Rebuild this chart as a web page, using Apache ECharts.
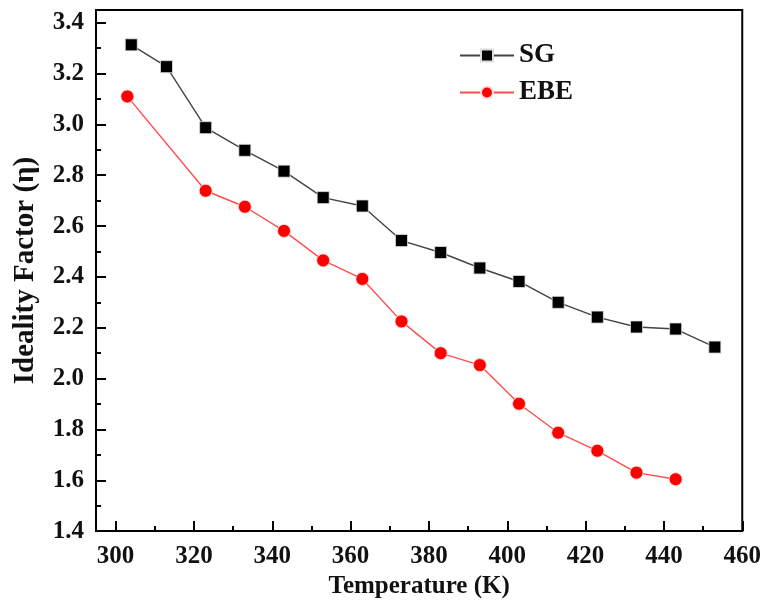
<!DOCTYPE html>
<html>
<head>
<meta charset="utf-8">
<script src="https://cdn.jsdelivr.net/npm/echarts@6/dist/echarts.min.js"></script>
<style>
  html, body { margin: 0; padding: 0; background: #fff; }
  #chart { width: 764px; height: 604px; }
</style>
</head>
<body>
<div id="chart"></div>
<script>
// data
const sgTemp = [304, 313, 323, 333, 343, 353, 363, 373, 383, 393, 403, 413, 423, 433, 443, 453];
const sgEta  = [3.313, 3.227, 2.987, 2.898, 2.816, 2.712, 2.679, 2.543, 2.496, 2.435, 2.382, 2.300, 2.242, 2.203, 2.195, 2.124];
const ebeTemp = [303, 323, 333, 343, 353, 363, 373, 383, 393, 403, 413, 423, 433, 443];
const ebeEta  = [3.110, 2.739, 2.676, 2.581, 2.465, 2.392, 2.225, 2.100, 2.053, 1.901, 1.787, 1.716, 1.630, 1.604];

// tick positions
const xMajor = [300, 320, 340, 360, 380, 400, 420, 440, 460];
const xMinor = [310, 330, 350, 370, 390, 410, 430, 450];
const yMajor = [1.4, 1.6, 1.8, 2.0, 2.2, 2.4, 2.6, 2.8, 3.0, 3.2, 3.4];
const yMinor = [1.5, 1.7, 1.9, 2.1, 2.3, 2.5, 2.7, 2.9, 3.1, 3.3];

const FONT = '"Liberation Serif", "DejaVu Serif", serif';

const zip = (xs, ys) => xs.map((x, i) => [x, ys[i]]);

const chart = echarts.init(document.getElementById('chart'));

const labelStyle = { fontFamily: FONT, fontWeight: 'bold', fontSize: 25, color: '#111' };
const tickLine = { color: '#000', width: 2 };

chart.setOption({
  animation: false,
  backgroundColor: '#fff',
  grid: {
    left: 96, top: 10, right: 20, bottom: 72,
    show: true, borderColor: '#000', borderWidth: 2
  },
  legend: {
    left: 454, top: 37, orient: 'vertical',
    itemWidth: 54, itemHeight: 15, itemGap: 10,
    textStyle: { fontFamily: FONT, fontWeight: 'bold', fontSize: 27, color: '#111' },
    data: ['SG', 'EBE']
  },
  xAxis: [
    {
      type: 'value', min: 295, max: 460,
      name: 'Temperature (K)', nameLocation: 'middle', nameGap: 34,
      nameTextStyle: labelStyle,
      axisLine: { show: true, lineStyle: tickLine },
      axisTick: { show: true, inside: true, length: 10, customValues: xMajor, lineStyle: tickLine },
      axisLabel: { customValues: xMajor, margin: 13, ...labelStyle },
      splitLine: { show: false }
    },
    {
      type: 'value', min: 295, max: 460, position: 'bottom',
      axisLine: { show: false },
      axisTick: { show: true, inside: true, length: 5, customValues: xMinor, lineStyle: tickLine },
      axisLabel: { show: false },
      splitLine: { show: false }
    }
  ],
  yAxis: [
    {
      type: 'value', min: 1.4, max: 3.45,
      name: 'Ideality Factor (η)', nameLocation: 'middle', nameGap: 56, nameRotate: 90,
      nameTextStyle: { ...labelStyle, fontSize: 29 },
      axisLine: { show: true, lineStyle: tickLine },
      axisTick: { show: true, inside: true, length: 10, customValues: yMajor, lineStyle: tickLine },
      axisLabel: { customValues: yMajor, margin: 12, formatter: v => v.toFixed(1), ...labelStyle },
      splitLine: { show: false }
    },
    {
      type: 'value', min: 1.4, max: 3.45, position: 'left',
      axisLine: { show: false },
      axisTick: { show: true, inside: true, length: 5, customValues: yMinor, lineStyle: tickLine },
      axisLabel: { show: false },
      splitLine: { show: false }
    }
  ],
  series: [
    {
      name: 'SG', type: 'line', data: zip(sgTemp, sgEta),
      symbol: 'rect', symbolSize: 12,
      itemStyle: { color: '#000', borderColor: '#ddd', borderWidth: 0.8 },
      lineStyle: { color: '#444', width: 1.4 }
    },
    {
      name: 'EBE', type: 'line', data: zip(ebeTemp, ebeEta),
      symbol: 'circle', symbolSize: 13,
      itemStyle: { color: '#ff0000', borderColor: '#fdd', borderWidth: 0.8 },
      lineStyle: { color: '#ff4d4d', width: 1.4 }
    }
  ]
});
</script>
</body>
</html>
